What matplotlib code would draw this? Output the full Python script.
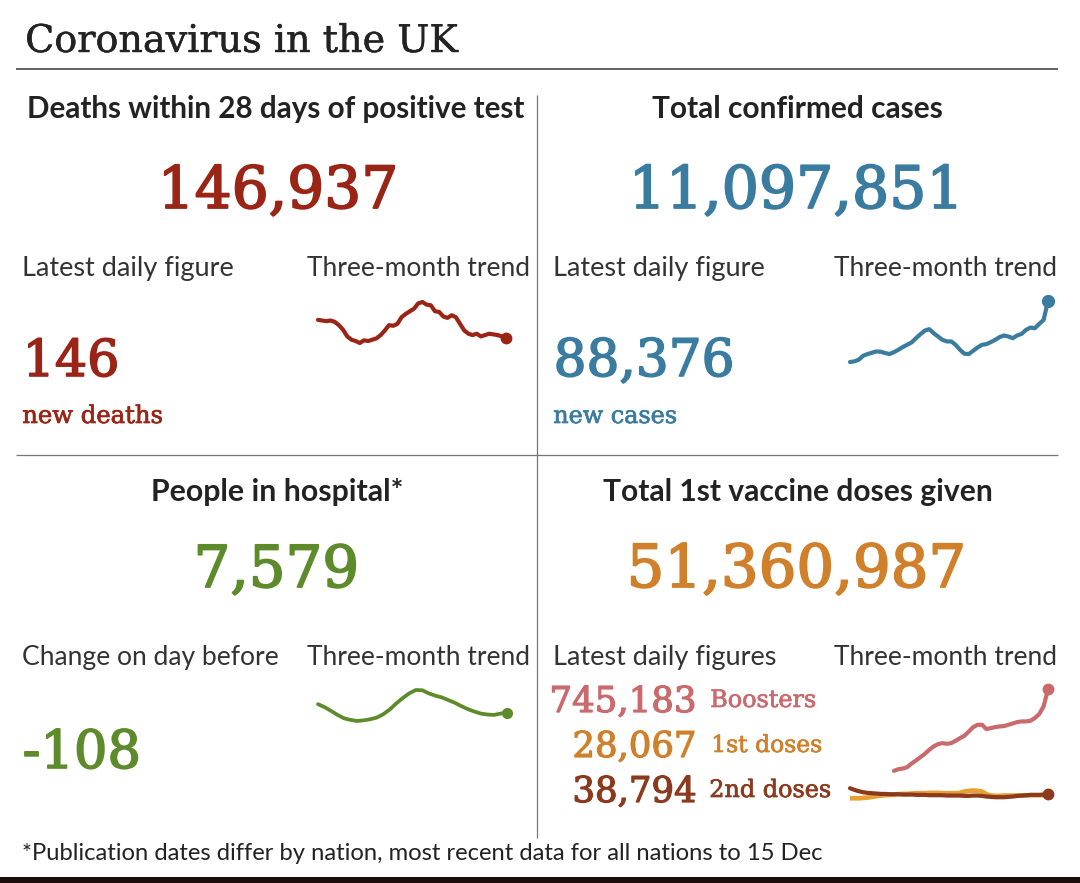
import matplotlib
matplotlib.use("Agg")
import matplotlib.pyplot as plt
import matplotlib.patheffects as pe
from matplotlib.patches import Rectangle
import numpy as np

# ---------------- data ----------------
deaths_trend = [131, 130, 129, 130, 128, 123, 116, 106, 101, 99, 96, 100, 99, 101, 103, 108,
                115, 123, 122, 125, 135, 140, 144, 148, 156, 158, 154, 153, 144, 143, 136, 134,
                138, 135, 125, 115, 110, 108, 110, 106, 108, 110, 109, 108, 106, 103]
cases_trend = [30000, 30600, 32200, 36000, 37600, 38900, 40100, 39800, 38600, 37600, 39500,
               41700, 44300, 46500, 48700, 52800, 56600, 60100, 61400, 57600, 54400, 51200,
               49700, 49700, 46500, 41700, 37900, 37600, 40800, 43900, 46500, 47100, 49000,
               51200, 53800, 55400, 54400, 52800, 55400, 56900, 60700, 63000, 62300, 66500,
               70300, 88376]
hospital_trend = [8200, 7980, 7700, 7400, 7150, 7030, 6950, 7000, 7080, 7200, 7450, 7800, 8250,
                  8650, 9000, 9250, 9230, 9000, 8830, 8700, 8500, 8300, 8050, 7830, 7650, 7500,
                  7430, 7400, 7500, 7579]
boosters_trend = [np.nan] * 10 + [195700, 206900, 211400, 220400, 245100, 265200, 287600, 310100,
                  337000, 359400, 375100, 381800, 377300, 381800, 397500, 415400, 431100, 460300,
                  489400, 505100, 505100, 476000, 482700, 489400, 493900, 496200, 505100, 514100,
                  523100, 527500, 527500, 532000, 550000, 576900, 628400, 745183]
first_doses_trend = [11900, 11900, 11900, 14100, 16400, 20900, 25300, 29800, 32100, 34300, 36500,
                     38800, 41000, 41000, 43300, 45500, 45500, 45500, 47800, 47800, 47800, 45500,
                     45500, 45500, 45500, 47800, 56700, 61200, 63400, 61200, 56700, 38800, 29800,
                     27600, 27600, 29800, 29800, 29800, 29800, 29800, 29800, 32100, 32100, 32100,
                     32100, 28067]
second_doses_trend = [79100, 67900, 59000, 52200, 47800, 45500, 43300, 41000, 41000, 38800, 38800,
                      38800, 36500, 36500, 36500, 34300, 34300, 34300, 32100, 32100, 32100, 32100,
                      29800, 29800, 29800, 29800, 27600, 27600, 29800, 29800, 27600, 23100, 20900,
                      18600, 18600, 18600, 20900, 23100, 27600, 29800, 32100, 34300, 34300, 34300,
                      36500, 38794]

title = "Coronavirus in the UK"
headings = ["Deaths within 28 days of positive test", "Total confirmed cases",
            "People in hospital*", "Total 1st vaccine doses given"]
totals = ["146,937", "11,097,851", "7,579", "51,360,987"]
latest_labels = ["Latest daily figure", "Latest daily figure", "Change on day before",
                 "Latest daily figures"]
trend_label = "Three-month trend"
latest_values = ["146", "88,376", "-108"]
latest_units = ["new deaths", "new cases"]
vaccine_daily = ["745,183", "28,067", "38,794"]
vaccine_kinds = ["Boosters", "1st doses", "2nd doses"]
footnote = "*Publication dates differ by nation, most recent data for all nations to 15 Dec"

# ---------------- colours / fonts ----------------
DARKRED = "#9a2516"
BLUE = "#3a7c9f"
GREEN = "#5d8b2b"
ORANGE = "#d0802b"
PINK = "#cb6a6d"
BROWN = "#8b3a1d"
INK = "#222222"
LABEL = "#333333"
SANS = ["Lato", "DejaVu Sans"]
SERIF = ["DejaVu Serif"]

W, H = 1080, 883
fig = plt.figure(figsize=(W / 100, H / 100), dpi=100)
fig.patch.set_facecolor("white")
ax = fig.add_axes([0, 0, 1, 1])
ax.set_xlim(0, W)
ax.set_ylim(H, 0)
ax.axis("off")
renderer = fig.canvas.get_renderer()


def put(s, x0, x1, base, color, family, weight="normal", heavy=0.0):
    t = ax.text(x0, base, s, ha="left", va="baseline", fontsize=20,
                color=color, family=family, fontweight=weight)
    w = t.get_window_extent(renderer).width
    t.set_fontsize(20 * (x1 - x0 - heavy) / w)
    if heavy:
        t.set_x(x0 + heavy / 2)
        t.set_path_effects([pe.withStroke(linewidth=heavy, foreground=color)])
    return t


# title and rules
put(title, 25, 457, 52, INK, SERIF, heavy=0.3)
ax.plot([16, 1058], [69, 69], color="#555555", lw=1.3, solid_capstyle="butt")
ax.plot([16, 1058], [455, 455], color="#777777", lw=0.9, solid_capstyle="butt")
ax.plot([537, 537], [95, 838], color="#777777", lw=0.9, solid_capstyle="butt")

# headings
put(headings[0], 27, 526, 118, INK, SANS, "bold")
put(headings[1], 652, 943, 118, INK, SANS, "bold")
put(headings[2], 151, 403, 501, INK, SANS, "bold")
put(headings[3], 603, 992, 501, INK, SANS, "bold")

# totals
put(totals[0], 157, 399, 208, DARKRED, SERIF, heavy=1.3)
put(totals[1], 628, 965, 208, BLUE, SERIF, heavy=1.3)
put(totals[2], 193, 360, 587, GREEN, SERIF, heavy=1.3)
put(totals[3], 626, 967, 587, ORANGE, SERIF, heavy=1.3)

# sub labels
put(latest_labels[0], 22, 234, 276, LABEL, SANS)
put(trend_label, 307, 530, 276, LABEL, SANS)
put(latest_labels[1], 553, 765, 276, LABEL, SANS)
put(trend_label, 834, 1057, 276, LABEL, SANS)
put(latest_labels[2], 22, 279, 665, LABEL, SANS)
put(trend_label, 307, 530, 665, LABEL, SANS)
put(latest_labels[3], 553, 777, 665, LABEL, SANS)
put(trend_label, 834, 1057, 665, LABEL, SANS)

# latest values
put(latest_values[0], 22, 120, 376, DARKRED, SERIF, heavy=1.2)
put(latest_units[0], 22, 163, 423, DARKRED, SERIF, heavy=0.5)
put(latest_values[1], 553, 735, 376, BLUE, SERIF, heavy=1.2)
put(latest_units[1], 553, 677, 423, BLUE, SERIF, heavy=0.5)
put(latest_values[2], 22, 142, 768, GREEN, SERIF, heavy=1.2)

# vaccine daily figures
put(vaccine_daily[0], 549, 697, 712, PINK, SERIF, heavy=0.9)
put(vaccine_kinds[0], 710, 816, 707, PINK, SERIF, heavy=0.5)
put(vaccine_daily[1], 572, 697, 757, ORANGE, SERIF, heavy=0.9)
put(vaccine_kinds[1], 711, 822, 752, ORANGE, SERIF, heavy=0.5)
put(vaccine_daily[2], 572, 697, 802, BROWN, SERIF, heavy=0.9)
put(vaccine_kinds[2], 709, 831, 797, BROWN, SERIF, heavy=0.5)

# footnote
put(footnote, 22, 825, 860, INK, SANS)

# bottom dark band
ax.add_patch(Rectangle((0, 877), W, 6, facecolor="#1d0c0c", edgecolor="none"))


def spark_axes(x0, x1, y0, y1):
    a = fig.add_axes([x0 / W, 1 - y1 / H, (x1 - x0) / W, (y1 - y0) / H])
    a.axis("off")
    return a


def spark(a, values, color, lw, ms):
    v = np.asarray(values, dtype=float)
    x = np.arange(len(v))
    a.plot(x, v, color=color, lw=lw, solid_capstyle="round", solid_joinstyle="round",
           clip_on=False)
    a.plot(x[-1], v[-1], "o", color=color, ms=ms, clip_on=False)


# deaths
a1 = spark_axes(318, 506, 302, 343)
spark(a1, deaths_trend, DARKRED, 3.0, 7.5)
a1.set_xlim(0, len(deaths_trend) - 1)
a1.set_ylim(min(deaths_trend), max(deaths_trend))

# cases
a2 = spark_axes(850, 1048, 301, 362)
spark(a2, cases_trend, BLUE, 3.0, 8.5)
a2.set_xlim(0, len(cases_trend) - 1)
a2.set_ylim(min(cases_trend), max(cases_trend))

# hospital
a3 = spark_axes(318, 507, 690, 721)
spark(a3, hospital_trend, GREEN, 2.7, 7.0)
a3.set_xlim(0, len(hospital_trend) - 1)
a3.set_ylim(min(hospital_trend), max(hospital_trend))

# vaccines (shared scale)
a4 = spark_axes(850, 1048, 689, 800)
x4 = np.arange(len(first_doses_trend))
a4.plot(x4, first_doses_trend, color="#e8a032", lw=3.4, solid_capstyle="butt", clip_on=False)
a4.plot(x4, second_doses_trend, color=BROWN, lw=3.0, solid_capstyle="round", clip_on=False)
a4.plot(x4[-1], second_doses_trend[-1], "o", color=BROWN, ms=7.5, clip_on=False)
a4.plot(x4, boosters_trend, color=PINK, lw=3.0, solid_capstyle="round", clip_on=False)
a4.plot(x4[-1], boosters_trend[-1], "o", color=PINK, ms=7.5, clip_on=False)
a4.set_xlim(0, len(x4) - 1)
a4.set_ylim(0, 745183)

fig.savefig("out.png", dpi=100, facecolor="white")
